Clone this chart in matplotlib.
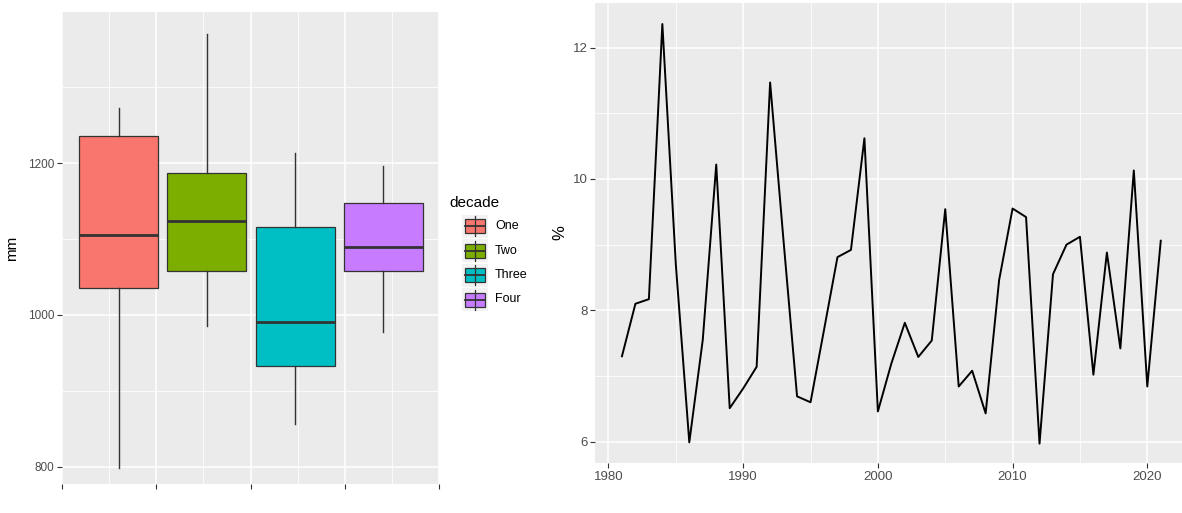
import matplotlib
matplotlib.use('Agg')
import matplotlib.pyplot as plt
from matplotlib.patches import Rectangle
import numpy as np

plt.rcParams['font.family'] = ['Liberation Sans', 'DejaVu Sans']

# ---- data: boxplot (mm) by decade
decades = ['One', 'Two', 'Three', 'Four']
colors = ['#F8766D', '#7CAE00', '#00BFC4', '#C77CFF']
whislo = [798, 986, 856, 977]
q1 = [1036, 1058, 933, 1058]
med = [1105, 1124, 990, 1090]
q3 = [1236, 1187, 1116, 1148]
whishi = [1273, 1371, 1214, 1197]

# ---- data: yearly % series
years = list(range(1981, 2022))
pct = [7.30, 8.10, 8.17, 12.36, 8.70, 5.99, 7.55, 10.22, 6.51, 6.81,
       7.14, 11.47, 9.05, 6.69, 6.60, 7.70, 8.81, 8.92, 10.62, 6.46,
       7.19, 7.81, 7.29, 7.54, 9.54, 6.84, 7.08, 6.43, 8.46, 9.55,
       9.42, 5.97, 8.55, 9.00, 9.12, 7.02, 8.88, 7.42, 10.13, 6.84,
       9.06]

W, H = 1182, 513
fig = plt.figure(figsize=(W / 100, H / 100), dpi=100)

PANEL = '#EBEBEB'
TXT = '#4D4D4D'

def gg_style(ax, fs):
    ax.set_facecolor(PANEL)
    for s in ax.spines.values():
        s.set_visible(False)
    ax.grid(which='major', color='white', lw=1.1)
    ax.grid(which='minor', color='white', lw=0.55)
    ax.set_axisbelow(True)
    ax.tick_params(which='major', length=3.5, width=0.8, color='#333333',
                   labelcolor=TXT, labelsize=fs, pad=2)
    ax.tick_params(which='minor', length=0)

# ---- left: boxplot
ax1 = fig.add_axes([62 / W, 1 - 484 / H, 377 / W, 472 / H])
gg_style(ax1, 8.5)
stats = [dict(whislo=a, q1=b, med=c, q3=d, whishi=e, label=n)
         for a, b, c, d, e, n in zip(whislo, q1, med, q3, whishi, decades)]
pos = 0.6 + np.arange(len(stats)) * 0.937
bp = ax1.bxp(stats, positions=pos, widths=0.84, patch_artist=True,
             showcaps=False, showfliers=False,
             boxprops=dict(edgecolor='#333333', lw=0.9),
             whiskerprops=dict(color='#333333', lw=1.0),
             medianprops=dict(color='#333333', lw=2.0))
for p, c in zip(bp['boxes'], colors):
    p.set_facecolor(c)
ax1.set_xlim(0, 4)
ax1.set_xticks([0, 1, 2, 3, 4])
ax1.set_xticks([0.5, 1.5, 2.5, 3.5], minor=True)
ax1.set_xticklabels([])
ax1.set_ylim(777, 1399.5)
ax1.set_yticks([800, 1000, 1200])
ax1.set_yticks([900, 1100, 1300], minor=True)
ax1.set_ylabel('mm', fontsize=11, color='black', labelpad=6)

# ---- legend drawn as ggplot-style keys
lg = fig.add_axes([0, 0, 1, 1])
lg.set_xlim(0, W)
lg.set_ylim(H, 0)
lg.axis('off')
lg.text(449, 203, 'decade', fontsize=11, va='center', ha='left')
for i, (n, c) in enumerate(zip(decades, colors)):
    yc = 226 + i * 24.5
    lg.add_patch(Rectangle((462, yc - 11.5), 26, 23, color='#F2F2F2', lw=0))
    lg.plot([475, 475], [yc - 10, yc + 10], color='#333333', lw=0.9)
    lg.add_patch(Rectangle((465, yc - 7), 20, 14, facecolor=c,
                           edgecolor='#333333', lw=0.9))
    lg.plot([465, 485], [yc, yc], color='#333333', lw=1.3)
    lg.text(495, yc, n, fontsize=9, va='center', ha='left')

# ---- right: line chart
ax2 = fig.add_axes([595 / W, 1 - 463 / H, 592.7 / W, 460 / H])
gg_style(ax2, 9.5)
ax2.plot(years, pct, color='black', lw=1.4)
ax2.set_xlim(1979, 2023)
ax2.set_xticks([1980, 1990, 2000, 2010, 2020])
ax2.set_xticks([1985, 1995, 2005, 2015], minor=True)
ax2.set_ylim(5.675, 12.68)
ax2.set_yticks([6, 8, 10, 12])
ax2.set_yticks([7, 9, 11], minor=True)
ax2.set_ylabel('%', fontsize=12, color='black', labelpad=4)

fig.savefig('out.png', dpi=100, facecolor='white')
